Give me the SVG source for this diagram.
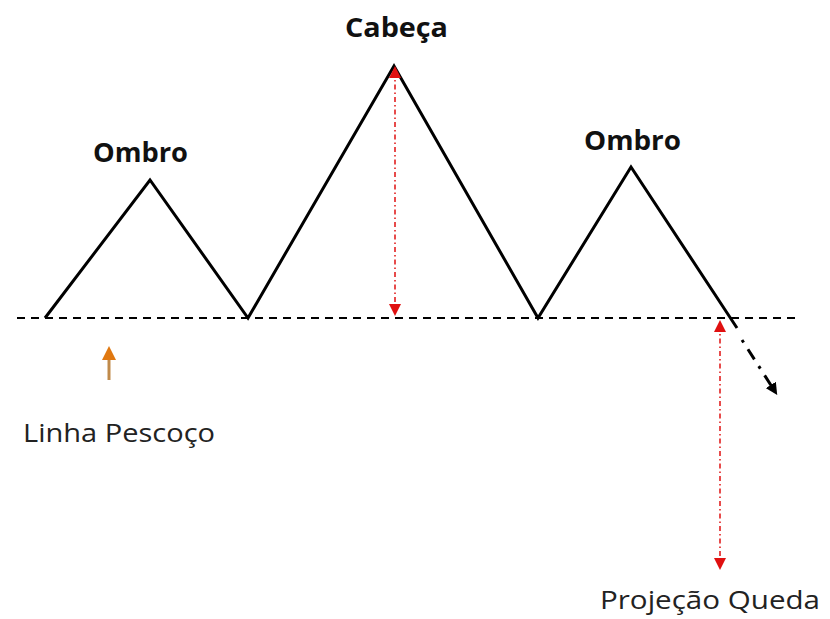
<svg xmlns="http://www.w3.org/2000/svg" width="830" height="619" viewBox="0 0 830 619">
<style>
.lbl{font-family:"Open Sans","Noto Sans",sans-serif;fill:#111}
.b{font-weight:bold;font-size:26px}
.r{font-size:26px;fill:#222}
.red{stroke:#e01010;stroke-width:1.5;stroke-dasharray:5 3 1.5 3;fill:none}
</style>
<defs>
<marker id="ra" markerWidth="12" markerHeight="12" refX="6" refY="6" orient="auto-start-reverse" markerUnits="userSpaceOnUse" viewBox="0 0 12 12"><path d="M0,0 L12,6 L0,12 Z" fill="#e01010"/></marker>
<marker id="ka" markerWidth="12" markerHeight="12" refX="6" refY="6" orient="auto" markerUnits="userSpaceOnUse" viewBox="0 0 12 12"><path d="M0,0 L12,6 L0,12 Z" fill="#000"/></marker>
<marker id="oa" markerWidth="14" markerHeight="14" refX="6" refY="7" orient="auto" markerUnits="userSpaceOnUse" viewBox="0 0 14 14"><path d="M0,0 L14,7 L0,14 Z" fill="#e07810"/></marker>
</defs>
<rect width="830" height="619" fill="#fff"/>
<g id="connectors">
<line x1="17" y1="318" x2="796" y2="318" stroke="#000" stroke-width="2" stroke-dasharray="8 6"/>
<polyline points="45,318 150,180 248,318 394,66 538,318 631,167 737,328" fill="none" stroke="#000" stroke-width="3" stroke-linejoin="miter"/>
<line x1="742" y1="340" x2="774" y2="390" stroke="#000" stroke-width="3" stroke-dasharray="3 8 12 8" marker-end="url(#ka)"/>
<line x1="395" y1="72" x2="395" y2="310" class="red" marker-start="url(#ra)" marker-end="url(#ra)"/>
<line x1="720" y1="326" x2="720" y2="564" class="red" marker-start="url(#ra)" marker-end="url(#ra)"/>
<line x1="109" y1="380" x2="109" y2="354" stroke="#c08a4a" stroke-width="3" marker-end="url(#oa)"/>
</g>
<g id="head"><text class="lbl b" x="345" y="37" textLength="103" lengthAdjust="spacingAndGlyphs">Cabeça</text></g>
<g id="shoulder-left"><text class="lbl b" x="93" y="162" textLength="95" lengthAdjust="spacingAndGlyphs">Ombro</text></g>
<g id="shoulder-right"><text class="lbl b" x="584" y="150" textLength="97" lengthAdjust="spacingAndGlyphs">Ombro</text></g>
<g id="neckline"><text class="lbl r" x="23" y="442" textLength="192" lengthAdjust="spacingAndGlyphs">Linha Pescoço</text></g>
<g id="projection"><text class="lbl r" x="600" y="609" textLength="220" lengthAdjust="spacingAndGlyphs">Projeção Queda</text></g>
</svg>
